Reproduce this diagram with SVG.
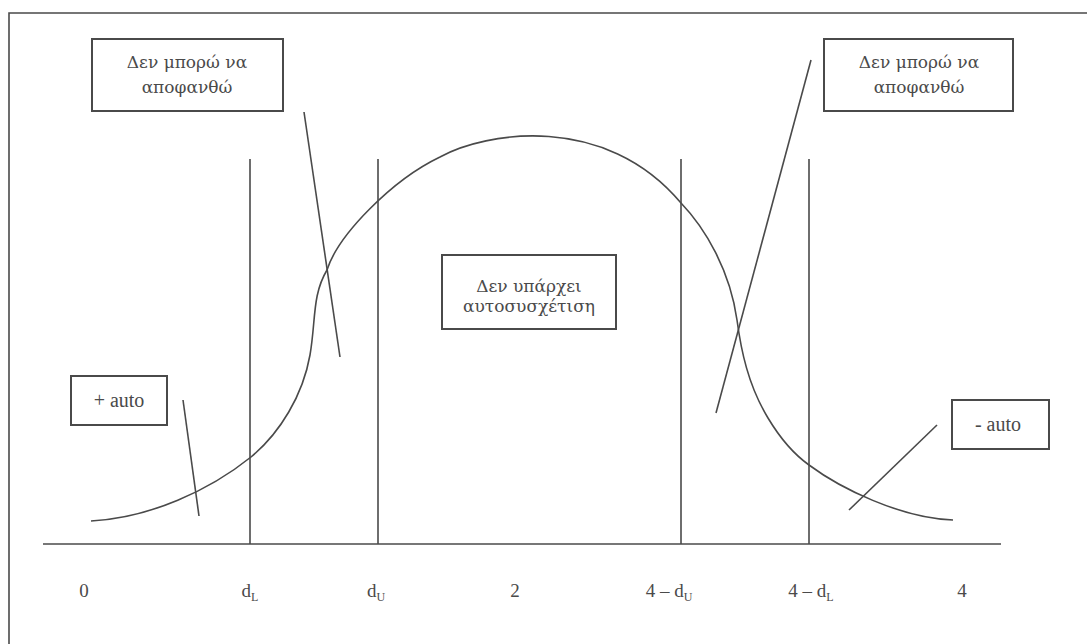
<svg xmlns="http://www.w3.org/2000/svg" width="1087" height="644" viewBox="0 0 1087 644">
<style>
.ln{stroke:#4a4a4a;stroke-width:1.6;fill:none}
.bx{stroke:#4a4a4a;stroke-width:2;fill:#fff}
.t{font-family:"DejaVu Serif","Liberation Serif",serif;font-size:17px;fill:#4a4a4a;text-anchor:middle}
.a{font-family:"Liberation Serif","Times New Roman",serif;font-size:20px;fill:#4a4a4a;text-anchor:middle}
.ax{font-family:"Liberation Serif","Times New Roman",serif;font-size:19px;fill:#4a4a4a;text-anchor:middle}
.sub{font-size:12px}
</style>
<rect width="1087" height="644" fill="#fff"/>
<g id="frame">
<path class="ln" d="M9,644 V13 H1087" stroke-width="2"/>
</g>
<g id="axis">
<line class="ln" x1="43" y1="544" x2="1001" y2="544"/>
</g>
<g id="connectors">
<line class="ln" x1="250" y1="159" x2="250" y2="544"/>
<line class="ln" x1="378" y1="159" x2="378" y2="544"/>
<line class="ln" x1="681" y1="159" x2="681" y2="544"/>
<line class="ln" x1="809" y1="159" x2="809" y2="544"/>
<path class="ln" d="M91,521 C150,518 210,490 251,457 C280,433 303,395 310,355 C316,320 312,295 327,270 C338,235 392,180 440,157 C485,132 605,112 681,203 C705,228 730,270 737,320 C741,350 748,385 768,418 C780,438 795,455 809,465 C840,488 900,518 953,520"/>
<line class="ln" x1="304" y1="112" x2="340" y2="357"/>
<line class="ln" x1="183" y1="400" x2="199" y2="516"/>
<line class="ln" x1="811" y1="60" x2="716" y2="413"/>
<line class="ln" x1="937" y1="425" x2="849" y2="510"/>
</g>
<g id="box-tl">
<rect class="bx" x="92" y="39" width="191" height="72"/>
<text class="t" x="187" y="68">Δεν μπορώ να</text>
<text class="t" x="187" y="93">αποφανθώ</text>
</g>
<g id="box-tr">
<rect class="bx" x="824" y="39" width="189" height="72"/>
<text class="t" x="919" y="68">Δεν μπορώ να</text>
<text class="t" x="919" y="93">αποφανθώ</text>
</g>
<g id="box-center">
<rect class="bx" x="442" y="255" width="174" height="74"/>
<text class="t" x="529" y="292">Δεν υπάρχει</text>
<text class="t" x="529" y="312">αυτοσυσχέτιση</text>
</g>
<g id="box-plus">
<rect class="bx" x="71" y="376" width="96" height="49"/>
<text class="a" x="119" y="407">+ auto</text>
</g>
<g id="box-minus">
<rect class="bx" x="952" y="400" width="97" height="49"/>
<text class="a" x="998" y="431">- auto</text>
</g>
<g id="labels">
<text class="ax" x="84" y="597">0</text>
<text class="ax" x="250" y="597">d<tspan class="sub" dy="4">L</tspan></text>
<text class="ax" x="376" y="597">d<tspan class="sub" dy="4">U</tspan></text>
<text class="ax" x="515" y="597">2</text>
<text class="ax" x="669" y="597">4 – d<tspan class="sub" dy="4">U</tspan></text>
<text class="ax" x="811" y="597">4 – d<tspan class="sub" dy="4">L</tspan></text>
<text class="ax" x="962" y="597">4</text>
</g>
</svg>
